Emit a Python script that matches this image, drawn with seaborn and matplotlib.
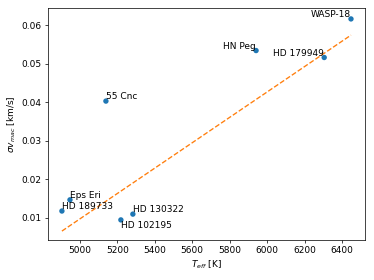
import numpy as np
import pandas as pd
import matplotlib
matplotlib.use("Agg")
import matplotlib.pyplot as plt
import seaborn as sns

# stars
names = ["55 Cnc", "WASP-18", "HN Peg", "HD 179949", "Eps Eri",
         "HD 189733", "HD 102195", "HD 130322"]
teff = [5139, 6448, 5941, 6305, 4947, 4904, 5219, 5283]
sig_vmac = [0.0403, 0.0616, 0.0534, 0.0516, 0.0147, 0.0118, 0.0095, 0.0110]

# linear relation shown as dashed line
slope = 3.29e-5
intercept = -0.15474

data = pd.DataFrame({"name": names, "teff": teff, "sig": sig_vmac})

DPI = 64.5
fig, ax = plt.subplots(figsize=(374 / DPI, 280 / DPI), dpi=DPI)
fig.subplots_adjust(left=0.128, right=0.976, top=0.971, bottom=0.143)

sns.scatterplot(x="teff", y="sig", data=data, ax=ax, color="C0", s=36,
                edgecolor="none")

tt = np.linspace(min(teff), max(teff), 50)
sns.lineplot(x=tt, y=slope * tt + intercept, ax=ax, color="C1", linestyle="--")

# label placement
align = {"WASP-18": ("right", "baseline"), "HN Peg": ("right", "baseline"),
         "HD 179949": ("right", "baseline"), "HD 102195": ("left", "top")}
for n, x, y in zip(names, teff, sig_vmac):
    ha, va = align.get(n, ("left", "baseline"))
    ax.text(x, y + (0.0005 if va == "baseline" else -0.0002), n,
            ha=ha, va=va, fontsize=10)

ax.set_xlim(4829, 6523)
ax.set_ylim(0.0043, 0.0644)
ax.set_xlabel(r"$T_{eff}$ [K]")
ax.set_ylabel(r"$\sigma v_{mac}$ [km/s]")

fig.savefig("out.png", dpi=DPI)
